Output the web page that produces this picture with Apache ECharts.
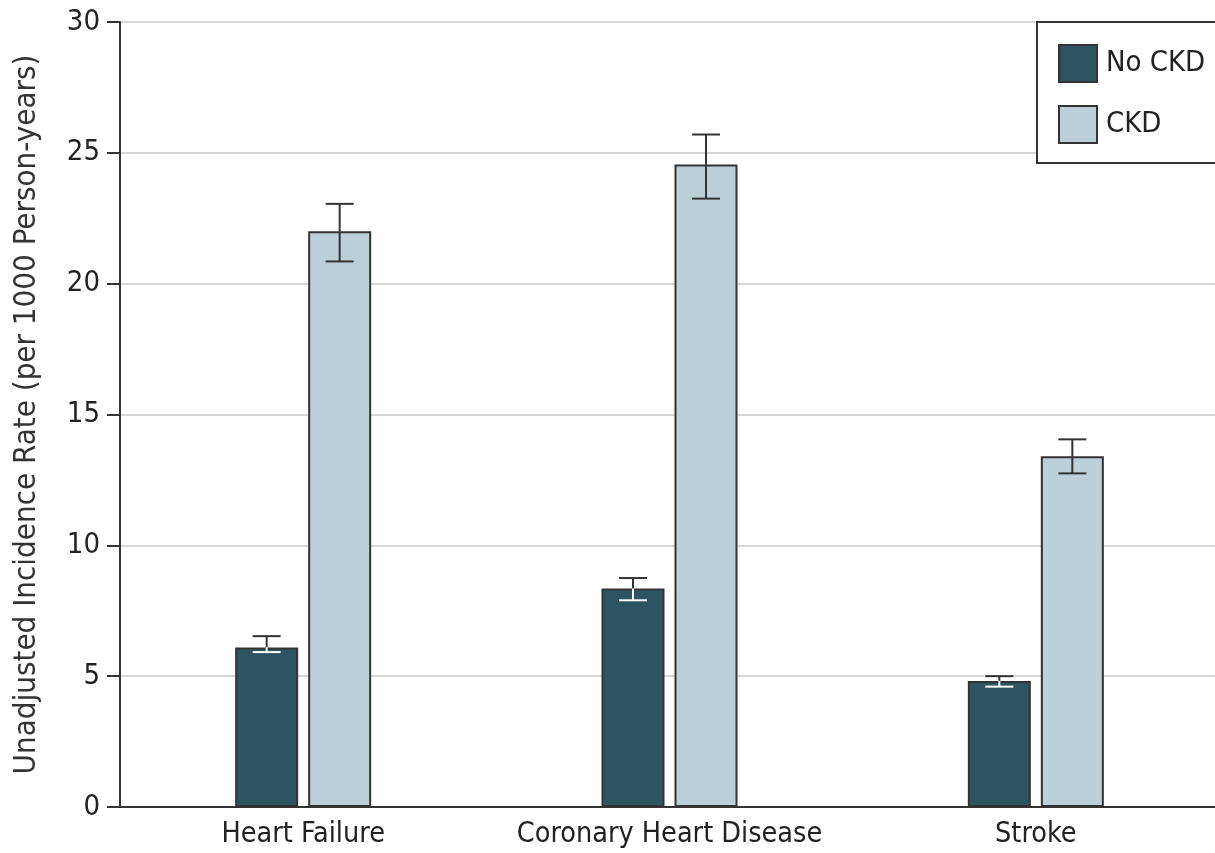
<!DOCTYPE html>
<html>
<head>
<meta charset="utf-8">
<script src="https://cdn.jsdelivr.net/npm/echarts@6/dist/echarts.min.js"></script>
<style>
  html, body { margin: 0; padding: 0; background: #fff; }
  #chart { width: 1215px; height: 853px; }
</style>
</head>
<body>
<div id="chart"></div>
<script>
// Outcome categories and unadjusted incidence rates (per 1000 person-years)
const categories = ['Heart Failure', 'Coronary Heart Disease', 'Stroke'];
const yTicks = [0, 5, 10, 15, 20, 25, 30];

const noCkdRate = [6.1, 8.35, 4.82];
const noCkdLow  = [5.92, 7.9, 4.6];
const noCkdHigh = [6.53, 8.75, 5.0];

const ckdRate = [22.0, 24.55, 13.4];
const ckdLow  = [20.85, 23.25, 12.75];
const ckdHigh = [23.05, 25.7, 14.05];

const FONT = '"Liberation Sans Narrow", "DejaVu Sans Condensed", "Liberation Sans", sans-serif';
const DARK = '#2c5461';
const LIGHT = '#bcd0d9';
const EDGE = '#333333';
const BAR_W = 63;
const BAR_GAP_PX = 10;

// Whisker drawn centred on a bar; the part inside the bar uses innerColor
function errorSeries(name, rate, low, high, side, innerColor) {
  const data = categories.map((c, i) => [i, rate[i], low[i], high[i]]);
  return {
    type: 'custom',
    name: name + ' CI',
    z: 5,
    silent: true,
    data: data,
    renderItem: function (params, api) {
      const idx = api.value(0);
      const mid = api.coord([idx, api.value(1)]);
      const lo = api.coord([idx, api.value(2)]);
      const hi = api.coord([idx, api.value(3)]);
      const x = mid[0] + side * (BAR_W + BAR_GAP_PX) / 2;
      const cap = 14;
      const outer = { stroke: EDGE, lineWidth: 2 };
      const inner = { stroke: innerColor, lineWidth: 2 };
      return {
        type: 'group',
        children: [
          { type: 'line', shape: { x1: x, y1: hi[1], x2: x, y2: mid[1] }, style: outer },
          { type: 'line', shape: { x1: x - cap, y1: hi[1], x2: x + cap, y2: hi[1] }, style: outer },
          { type: 'line', shape: { x1: x, y1: mid[1], x2: x, y2: lo[1] }, style: inner },
          { type: 'line', shape: { x1: x - cap, y1: lo[1], x2: x + cap, y2: lo[1] }, style: inner }
        ]
      };
    }
  };
}

const chart = echarts.init(document.getElementById('chart'));
chart.setOption({
  animation: false,
  backgroundColor: '#ffffff',
  textStyle: { fontFamily: FONT },
  grid: { left: 120, right: -4, top: 22, bottom: 46, containLabel: false, outerBoundsMode: 'none' },
  legend: {
    data: ['No CKD', 'CKD'],
    orient: 'vertical',
    left: 1037,
    top: 22,
    icon: 'rect',
    itemWidth: 38,
    itemHeight: 37,
    itemGap: 22,
    padding: [22, 20, 19, 21],
    borderColor: EDGE,
    borderWidth: 2,
    backgroundColor: '#ffffff',
    textStyle: { fontFamily: FONT, fontSize: 29, color: '#222', padding: [0, 0, 0, 4] }
  },
  xAxis: {
    type: 'category',
    data: categories,
    axisLine: { lineStyle: { color: EDGE, width: 2 } },
    axisTick: { show: false },
    axisLabel: { interval: 0, hideOverlap: false, fontSize: 28.5, color: '#222', margin: 13, fontFamily: FONT }
  },
  yAxis: {
    type: 'value',
    min: 0,
    max: 30,
    interval: 5,
    name: 'Unadjusted Incidence Rate (per 1000 Person-years)',
    nameLocation: 'middle',
    nameGap: 78,
    nameTextStyle: { fontSize: 31, color: '#333', fontFamily: FONT },
    axisLine: { show: true, lineStyle: { color: EDGE, width: 2 } },
    axisTick: { show: true, length: 13, lineStyle: { color: EDGE, width: 2 } },
    axisLabel: {
      fontSize: 29, color: '#222', margin: 20, fontFamily: FONT,
      formatter: v => yTicks.includes(v) ? String(v) : ''
    },
    splitLine: { lineStyle: { color: '#d6d6d6', width: 2 } }
  },
  series: [
    {
      name: 'No CKD',
      type: 'bar',
      data: noCkdRate,
      barWidth: BAR_W,
      barGap: (BAR_GAP_PX / BAR_W * 100) + '%',
      itemStyle: { color: DARK, borderColor: EDGE, borderWidth: 2 }
    },
    {
      name: 'CKD',
      type: 'bar',
      data: ckdRate,
      barWidth: BAR_W,
      itemStyle: { color: LIGHT, borderColor: EDGE, borderWidth: 2 }
    },
    errorSeries('No CKD', noCkdRate, noCkdLow, noCkdHigh, -1, '#ffffff'),
    errorSeries('CKD', ckdRate, ckdLow, ckdHigh, 1, EDGE)
  ]
});
</script>
</body>
</html>
